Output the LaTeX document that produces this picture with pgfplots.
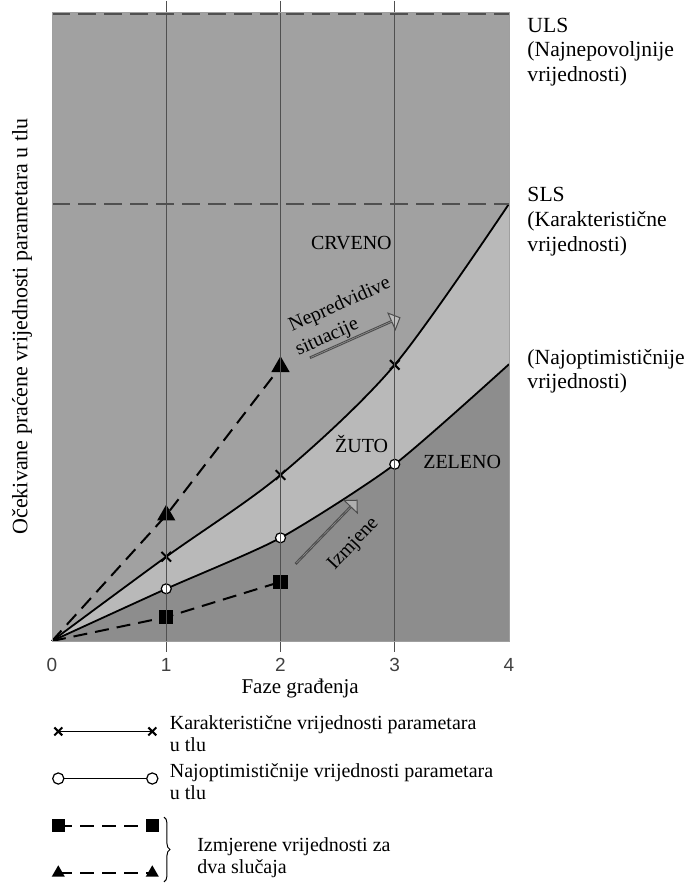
\documentclass[border=0pt]{standalone}
\usepackage{fontspec}
\setmainfont{Liberation Serif}
\newfontfamily\tickfont{Liberation Sans}
\usepackage{pgfplots}
\pgfplotsset{compat=1.18}
\usepgfplotslibrary{fillbetween}
\usetikzlibrary{shapes.arrows,decorations.pathreplacing}

\definecolor{crveno}{HTML}{A1A1A1}
\definecolor{zuto}{HTML}{B9B9B9}
\definecolor{zeleno}{HTML}{8D8D8D}
\definecolor{mreza}{HTML}{505050}

\begin{document}
\begin{tikzpicture}
\begin{axis}[
    scale only axis,
    width=228.5pt, height=314.5pt,
    xmin=0, xmax=4, ymin=0, ymax=10,
    clip=false,
    axis on top,
    axis background/.style={fill=crveno},
    axis line style={draw=gray!75, line width=0.4pt},
    xtick={0,1,2,3,4},
    ytick=\empty,
    major tick length=0pt,
    extra x ticks={1,2,3},
    extra x tick labels={},
    extra x tick style={xmajorgrids=true, major tick length=5.5pt, tick align=outside,
        tick style={draw=mreza, line width=0.6pt}},
    grid style={draw=mreza, line width=0.6pt},
    /pgf/number format/assume math mode=true,
    xticklabel style={font=\tickfont\fontsize{9.5}{10}\selectfont, text=black!75, yshift=-5pt},
    xlabel={Faze građenja},
    every axis x label/.style={at={(axis description cs:0.543,-0.0747)}, anchor=center,
        font=\fontsize{10.5}{12}\selectfont},
    ylabel={Očekivane praćene vrijednosti parametara u tlu},
    every axis y label/.style={at={(axis description cs:-0.0656,0.5)}, rotate=90, anchor=center,
        font=\fontsize{11}{13}\selectfont},
    legend cell align=left,
    legend style={at={(axis cs:-0.05,-1.28)}, anchor=north west, draw=none, fill=none,
        font=\fontsize{10}{11}\selectfont, row sep=18pt, column sep=4pt},
    legend image code/.code={\draw[#1, mark indices={1,3}, mark size=2.8pt] plot coordinates {(0pt,0pt) (23.5pt,0pt) (47pt,0pt)};},
]
% granice
\addplot[draw=none, name path=os, forget plot] coordinates {(0,0) (4,0)};

% karakteristicne vrijednosti
\addplot[name path=kar, smooth, tension=0.5, line width=0.9pt, black,
    mark=x, mark size=3.4pt, mark options={line width=1pt}, mark indices={2,3,4}]
    coordinates {(0,0) (1,1.34) (2,2.64) (3,4.39) (4,6.95)};
\addlegendentry{\smash{\begin{tabular}[t]{@{}l@{}}Karakteristične vrijednosti parametara\\u tlu\end{tabular}}}

% najoptimisticnije vrijednosti
\addplot[name path=opt, smooth, tension=0.4, line width=0.9pt, black,
    mark=*, mark size=2.5pt, mark options={fill=white, draw=black, line width=0.6pt}, mark indices={2,3,4}]
    coordinates {(0,0) (1,0.83) (2,1.64) (3,2.81) (4,4.40)};
\addlegendentry{\smash{\begin{tabular}[t]{@{}l@{}}Najoptimističnije vrijednosti parametara\\u tlu\end{tabular}}}

% izmjerene vrijednosti
\addplot[line width=1pt, black, dash pattern=on 7pt off 4pt,
    mark=square*, mark size=3.1pt, mark options={solid}, mark indices={2,3}]
    coordinates {(0,0) (1,0.38) (2,0.94)};
\addlegendentry{}
\addplot[line width=1pt, black, dash pattern=on 7pt off 4pt,
    mark=triangle*, mark size=4.3pt, mark options={solid}, mark indices={2,3}]
    coordinates {(0,0) (1,2.00) (2,4.36)};
\addlegendentry{}

% zone
\addplot[zuto, forget plot] fill between[of=kar and opt];
\addplot[zeleno, forget plot] fill between[of=opt and os];

% ULS i SLS
\addplot[mreza, line width=1.2pt, dash pattern=on 9pt off 4pt, forget plot]
    coordinates {(0,9.97) (4,9.97)};
\addplot[mreza, line width=1.2pt, dash pattern=on 9pt off 4pt, forget plot]
    coordinates {(0,6.95) (4,6.95)};

% strelice i natpisi
\node[single arrow, draw=black!70, fill=crveno!70!white, line width=0.5pt,
    minimum height=49pt, minimum width=9pt, single arrow head extend=2.5pt,
    inner sep=0pt, rotate=24] at (axis cs:2.65,4.82) {};
\node[single arrow, draw=black!70, fill=zeleno!70!white, line width=0.5pt,
    minimum height=44pt, minimum width=9pt, single arrow head extend=2.5pt,
    inner sep=0pt, rotate=46] at (axis cs:2.40,1.73) {};
\node[rotate=24] at (axis cs:2.52,5.34) {Nepredvidive};
\node[rotate=24] at (axis cs:2.41,4.82) {situacije};
\node[rotate=47] at (axis cs:2.64,1.54) {Izmjene};
\node at (axis cs:2.62,6.33) {CRVENO};
\node at (axis cs:2.71,3.13) {ŽUTO};
\node at (axis cs:3.59,2.85) {ZELENO};

% desni natpisi
\begin{scope}[every node/.style={anchor=base west, font=\fontsize{10.8}{13}\selectfont}]
\node at (axis cs:4.10,9.68) {ULS};
\node at (axis cs:4.10,9.29) {(Najnepovoljnije};
\node at (axis cs:4.10,8.90) {vrijednosti)};
\node at (axis cs:4.10,6.98) {SLS};
\node at (axis cs:4.10,6.59) {(Karakteristične};
\node at (axis cs:4.10,6.20) {vrijednosti)};
\node at (axis cs:4.10,4.39) {(Najoptimističnije};
\node at (axis cs:4.10,4.02) {vrijednosti)};
\end{scope}

% zagrada uz izmjerene vrijednosti
\draw[decorate, decoration={brace, amplitude=3pt}, line width=0.5pt]
    (axis cs:0.98,-2.80) -- (axis cs:0.98,-3.83);
\node[anchor=base west] at (axis cs:1.21,-3.34) {Izmjerene vrijednosti za};
\node[anchor=base west] at (axis cs:1.21,-3.69) {dva slučaja};
\end{axis}
\pgfresetboundingbox
\path (-26pt,-121pt) rectangle (318pt,320.5pt);
\end{tikzpicture}
\end{document}
